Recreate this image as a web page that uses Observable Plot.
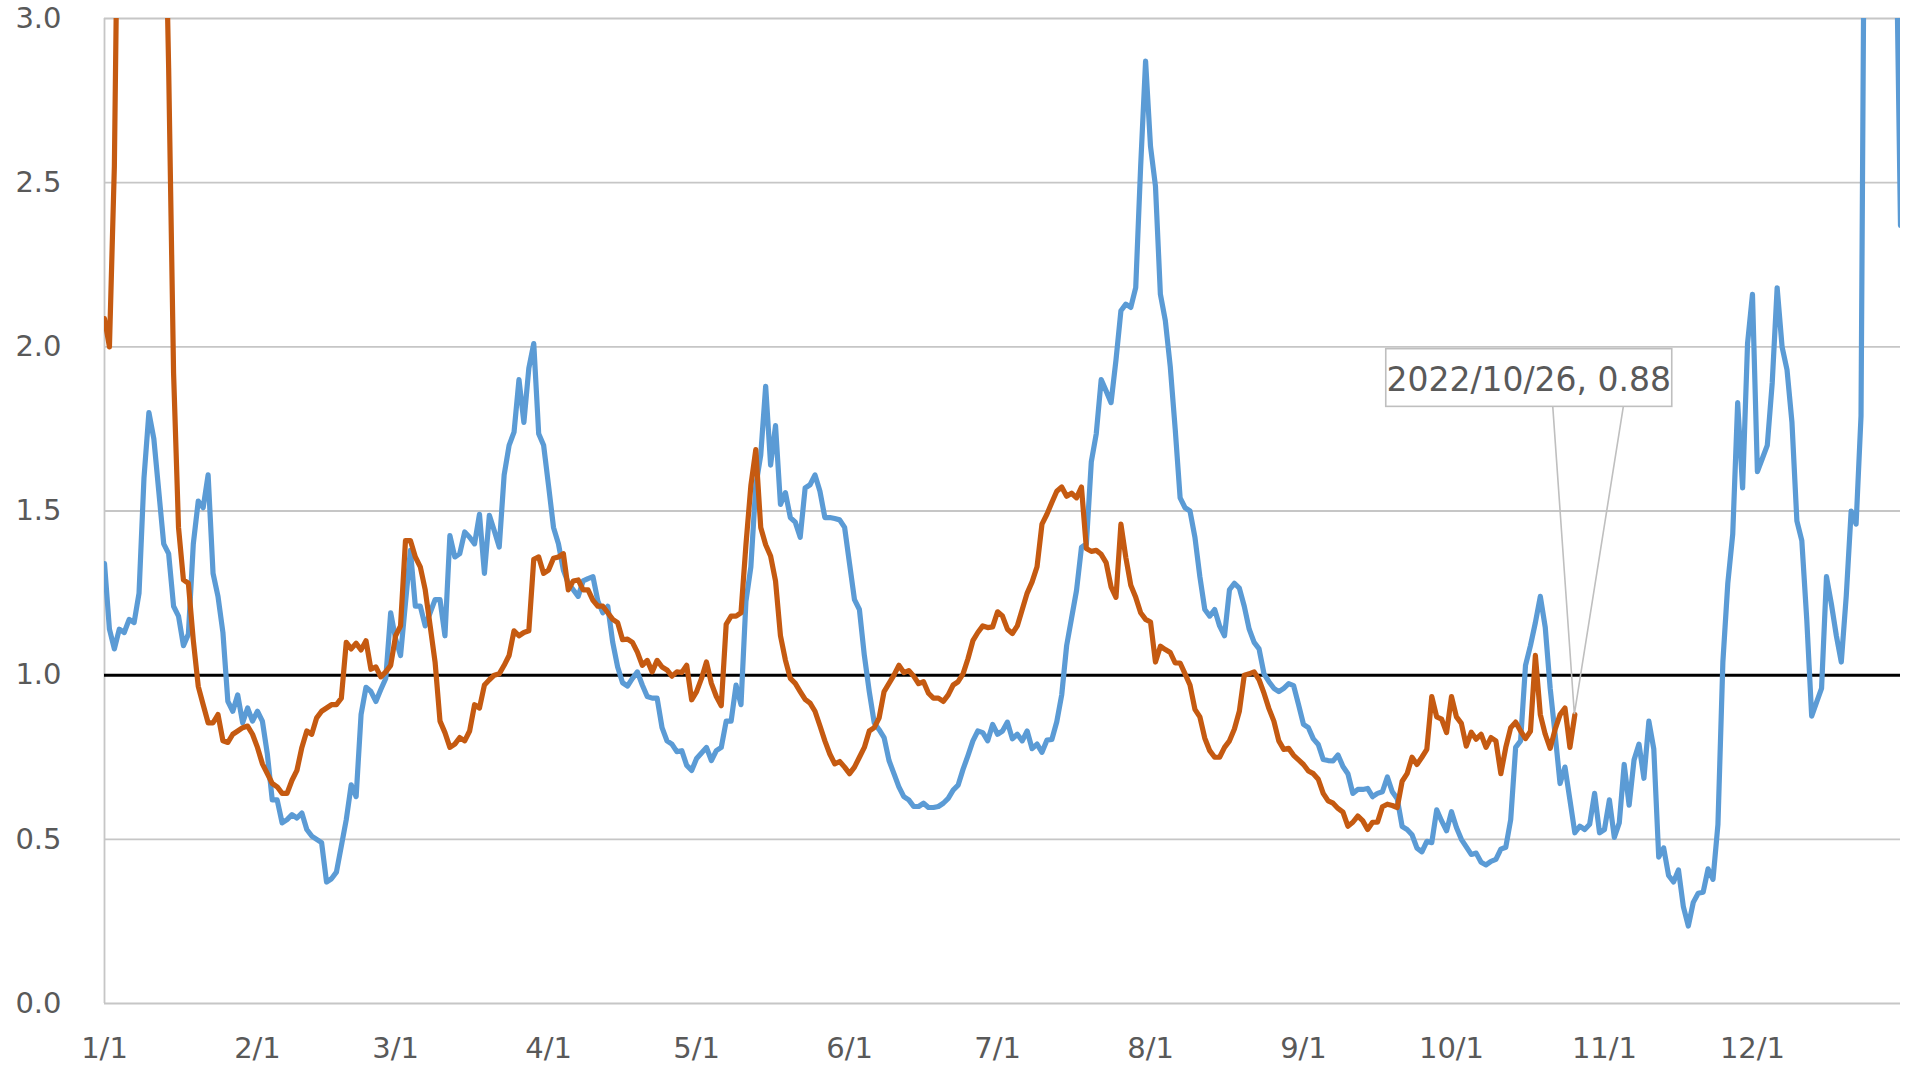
<!DOCTYPE html>
<html>
<head>
<meta charset="utf-8">
<script src="https://cdn.jsdelivr.net/npm/d3@7"></script>
<script src="https://cdn.jsdelivr.net/npm/@observablehq/plot@0.6"></script>
<style>
html, body { margin: 0; padding: 0; background: #ffffff; }
#wrap { position: relative; width: 1914px; height: 1070px; overflow: hidden; background: #fff; }
#border { position: absolute; left: 8px; top: 0; width: 0; height: 1070px; border-left: 2px solid #d9d9d9; }
#chart { position: absolute; left: 0; top: 0; }
</style>
</head>
<body>
<div id="wrap"><div id="border"></div><div id="chart"></div></div>
<script>
// Month-start positions (day of year, 0 = 1/1) and their labels
const tickDays = [0, 31, 59, 90, 120, 151, 181, 212, 243, 273, 304, 334];
const tickLabels = ["1/1", "2/1", "3/1", "4/1", "5/1", "6/1", "7/1", "8/1", "9/1", "10/1", "11/1", "12/1"];
const yTicks = [0, 0.5, 1.0, 1.5, 2.0, 2.5, 3.0];
const referenceLevel = 1.0;

// Previous year (blue), daily values 1/1 .. 12/31
const seriesPrev = [
  1.34,1.14,1.08,1.14,1.13,1.17,1.16,1.25,1.60,1.80,
  1.72,1.56,1.40,1.37,1.21,1.18,1.09,1.125,1.40,1.53,
  1.51,1.61,1.31,1.24,1.13,0.92,0.89,0.94,0.855,0.90,
  0.86,0.89,0.86,0.76,0.62,0.62,0.55,0.56,0.575,0.565,
  0.58,0.53,0.51,0.50,0.49,0.37,0.38,0.40,0.48,0.56,
  0.666,0.63,0.88,0.963,0.95,0.92,0.956,0.99,1.19,1.11,
  1.06,1.22,1.38,1.21,1.21,1.15,1.19,1.23,1.23,1.12,
  1.425,1.36,1.37,1.436,1.42,1.40,1.49,1.31,1.487,1.44,
  1.39,1.61,1.70,1.74,1.90,1.77,1.935,2.01,1.735,1.70,
  1.577,1.45,1.40,1.32,1.28,1.26,1.24,1.287,1.294,1.30,
  1.225,1.19,1.21,1.10,1.025,0.977,0.967,0.99,1.01,0.97,
  0.935,0.93,0.93,0.84,0.80,0.79,0.767,0.77,0.725,0.71,
  0.746,0.763,0.78,0.74,0.77,0.78,0.86,0.86,0.97,0.91,
  1.225,1.33,1.577,1.67,1.88,1.64,1.76,1.52,1.556,1.48,
  1.466,1.42,1.57,1.58,1.61,1.56,1.48,1.48,1.477,1.473,
  1.45,1.34,1.23,1.20,1.06,0.95,0.855,0.834,0.81,0.74,
  0.70,0.66,0.63,0.62,0.60,0.60,0.61,0.597,0.597,0.60,
  0.61,0.625,0.65,0.665,0.713,0.755,0.80,0.83,0.825,0.80,
  0.85,0.82,0.83,0.857,0.806,0.82,0.80,0.83,0.776,0.79,
  0.765,0.802,0.804,0.858,0.94,1.09,1.174,1.258,1.389,1.40,
  1.65,1.735,1.90,1.866,1.83,1.96,2.11,2.13,2.12,2.18,
  2.55,2.87,2.61,2.49,2.16,2.08,1.94,1.75,1.54,1.51,
  1.50,1.42,1.30,1.20,1.18,1.20,1.15,1.12,1.26,1.28,
  1.265,1.21,1.14,1.10,1.08,1.004,0.98,0.96,0.95,0.96,
  0.974,0.968,0.91,0.85,0.84,0.806,0.789,0.743,0.74,0.739,
  0.757,0.722,0.70,0.64,0.652,0.652,0.655,0.63,0.64,0.645,
  0.69,0.645,0.624,0.539,0.53,0.514,0.473,0.462,0.494,0.49,
  0.59,0.556,0.526,0.584,0.536,0.50,0.477,0.454,0.458,0.43,
  0.422,0.433,0.439,0.47,0.476,0.56,0.78,0.80,1.03,1.09,
  1.16,1.24,1.146,0.96,0.82,0.67,0.72,0.62,0.52,0.54,
  0.53,0.546,0.64,0.52,0.53,0.62,0.506,0.55,0.728,0.604,
  0.742,0.79,0.686,0.86,0.775,0.446,0.474,0.39,0.37,0.407,
  0.294,0.236,0.308,0.336,0.339,0.41,0.378,0.545,1.04,1.28,
  1.43,1.83,1.57,2.01,2.16,1.62,1.66,1.70,1.89,2.18,
  2.00,1.93,1.77,1.47,1.41,1.17,0.875,0.918,0.96,1.30,
  1.216,1.12,1.04,1.24,1.50,1.46,1.79,4.2,4.8,5.1,
  4.9,4.4,3.9,3.4,2.37
];

// 2022 (orange), daily values 1/1 .. 10/26
const series2022 = [
  2.086,2.00,2.55,3.8,4.5,5.0,5.3,5.5,5.2,5.0,
  4.6,4.2,3.6,2.85,1.92,1.45,1.29,1.28,1.106,0.966,
  0.91,0.855,0.855,0.88,0.80,0.795,0.82,0.83,0.84,0.845,
  0.82,0.78,0.73,0.70,0.67,0.66,0.64,0.64,0.68,0.71,
  0.78,0.83,0.82,0.87,0.89,0.90,0.91,0.91,0.93,1.10,
  1.08,1.097,1.077,1.105,1.018,1.025,0.995,1.01,1.03,1.12,
  1.15,1.41,1.41,1.36,1.33,1.26,1.15,1.04,0.86,0.825,
  0.78,0.79,0.81,0.80,0.83,0.91,0.90,0.97,0.986,1.00,
  1.004,1.03,1.06,1.135,1.12,1.13,1.135,1.353,1.36,1.31,
  1.32,1.356,1.36,1.37,1.26,1.287,1.29,1.26,1.26,1.228,
  1.21,1.21,1.19,1.17,1.16,1.108,1.11,1.10,1.07,1.03,
  1.045,1.01,1.045,1.025,1.016,0.997,1.01,1.008,1.03,0.925,
  0.95,0.99,1.04,0.975,0.935,0.907,1.155,1.18,1.18,1.19,
  1.397,1.577,1.687,1.45,1.397,1.363,1.287,1.12,1.046,0.99,
  0.975,0.95,0.926,0.915,0.89,0.846,0.80,0.76,0.73,0.737,
  0.72,0.70,0.72,0.75,0.78,0.83,0.84,0.87,0.95,0.975,
  1.00,1.03,1.008,1.014,0.997,0.974,0.98,0.945,0.93,0.93,
  0.92,0.94,0.97,0.98,1.004,1.05,1.105,1.13,1.15,1.145,
  1.147,1.193,1.18,1.14,1.127,1.15,1.20,1.25,1.284,1.33,
  1.46,1.49,1.526,1.56,1.573,1.545,1.554,1.54,1.573,1.386,
  1.377,1.38,1.368,1.343,1.269,1.237,1.46,1.358,1.274,1.237,
  1.19,1.17,1.162,1.04,1.088,1.078,1.069,1.037,1.037,1.004,
  0.97,0.896,0.873,0.808,0.77,0.75,0.75,0.78,0.80,0.836,
  0.89,1.00,1.004,1.01,0.986,0.945,0.898,0.86,0.80,0.774,
  0.777,0.756,0.742,0.728,0.708,0.70,0.683,0.64,0.617,0.61,
  0.594,0.583,0.54,0.552,0.571,0.557,0.53,0.552,0.552,0.599,
  0.607,0.603,0.597,0.677,0.70,0.75,0.728,0.75,0.774,0.935,
  0.873,0.866,0.825,0.935,0.873,0.853,0.784,0.826,0.805,0.82,
  0.78,0.81,0.80,0.70,0.78,0.84,0.857,0.83,0.807,0.829,
  1.06,0.88,0.82,0.777,0.835,0.88,0.90,0.78,0.88
];

const annotationText = "2022/10/26, 0.88";

const rowsPrev = seriesPrev.map((v, i) => ({day: i, value: v}));
const rows2022 = series2022.map((v, i) => ({day: i, value: v}));

const grid = "#c6c6c6";
const labelColor = "#595959";

const chart = Plot.plot({
  width: 1914,
  height: 1070,
  marginLeft: 104,
  marginRight: 14,
  marginTop: 18,
  marginBottom: 67,
  x: {domain: [0, 364]},
  y: {domain: [0, 3]},
  style: {fontFamily: "'DejaVu Sans', Verdana, sans-serif", fontSize: "29px", color: labelColor, background: "#fff", overflow: "visible"},
  marks: [
    Plot.ruleY(yTicks.filter(t => t !== referenceLevel), {stroke: grid, strokeWidth: 1.8}),
    Plot.ruleX([0], {stroke: grid, strokeWidth: 1.8}),
    Plot.ruleY([referenceLevel], {stroke: "#000", strokeWidth: 3}),
    Plot.line(rowsPrev, {x: "day", y: "value", stroke: "#5b9bd5", strokeWidth: 5.2, strokeLinejoin: "round", strokeLinecap: "round", clip: true}),
    Plot.line(rows2022, {x: "day", y: "value", stroke: "#c55a11", strokeWidth: 5.2, strokeLinejoin: "round", strokeLinecap: "round", clip: true}),
    Plot.axisX({ticks: tickDays, tickFormat: d => tickLabels[tickDays.indexOf(d)], tickSize: 0, tickPadding: 34, label: null, fill: labelColor}),
    Plot.axisY({ticks: yTicks, tickFormat: d3.format(".1f"), tickSize: 0, tickPadding: 43, label: null, fill: labelColor})
  ]
});
document.getElementById("chart").appendChild(chart);

// Data callout for the last 2022 point
const lastDay = series2022.length - 1;
const lastVal = series2022[lastDay];
const sx = chart.scale("x"), sy = chart.scale("y");
const px = sx.apply(lastDay), py = sy.apply(lastVal);
const svg = d3.select(chart);
const boxL = px - 188.6, boxR = px + 97.4, boxT = py - 365.4, boxB = py - 307.7;
const g = svg.append("g");
g.append("path")
  .attr("d", `M${px - 21.6},${boxB}L${px},${py}L${px + 49},${boxB}`)
  .attr("fill", "none").attr("stroke", "#bfbfbf").attr("stroke-width", 1.6);
g.append("rect")
  .attr("x", boxL).attr("y", boxT).attr("width", boxR - boxL).attr("height", boxB - boxT)
  .attr("fill", "#fff").attr("stroke", "#bfbfbf").attr("stroke-width", 1.6);
g.append("text")
  .attr("x", (boxL + boxR) / 2).attr("y", (boxT + boxB) / 2 + 1.5)
  .attr("text-anchor", "middle").attr("dominant-baseline", "central")
  .attr("fill", labelColor).attr("font-size", 33)
  .attr("font-family", "'DejaVu Sans', Verdana, sans-serif")
  .text(annotationText);
</script>
</body>
</html>
